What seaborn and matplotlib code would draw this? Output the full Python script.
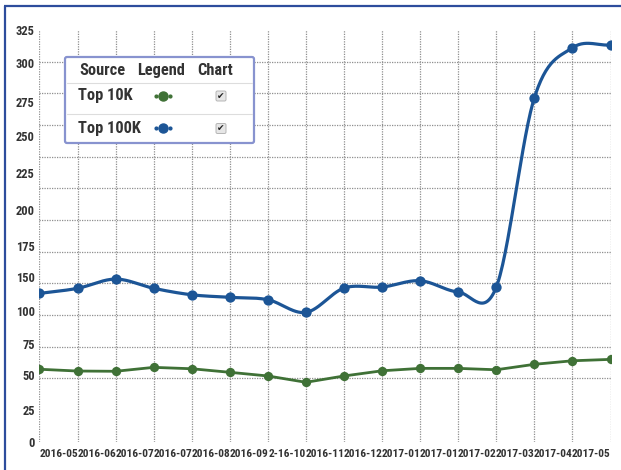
import numpy as np
import pandas as pd
import matplotlib
matplotlib.use("Agg")
import matplotlib.pyplot as plt
from matplotlib import font_manager
from matplotlib.patches import FancyBboxPatch
import seaborn as sns

# Data
months = list(range(16))
top_10k = [57.2, 55.8, 55.6, 58.7, 57.6, 54.8, 51.9, 46.9,
           51.9, 56.0, 57.9, 57.9, 56.8, 61.1, 63.9, 65.0]
top_100k = [117.1, 121.1, 128.4, 121.1, 116.0, 114.0, 112.1, 102.1,
            121.3, 122.1, 127.1, 118.2, 122.1, 271.6, 311.0, 313.2]
x_labels = ["2016-05", "2016-06", "2016-07", "2016-07", "2016-08", "2016-09", "2-16-10",
            "2016-11", "2016-12", "2017-01", "2017-01", "2017-02", "2017-03", "2017-04", "2017-05"]
y_labels = ["0", "25", "50", "75", "100", "150", "175", "200", "225", "250", "275", "300", "325"]
y_label_pos = [0, 25, 53, 77, 103, 130, 154.5, 183, 212, 241, 268, 298.7, 325]

GREEN = "#3f7136"
BLUE = "#1c5596"
TEXT = "#333333"

sns.set_style("white")

# a narrow bold face is closest to the original; fall back to Liberation Sans
installed = {f.name for f in font_manager.fontManager.ttflist}
narrow = next((n for n in ["Liberation Sans Narrow", "Roboto Condensed", "Arial Narrow",
                           "Open Sans Condensed", "DejaVu Sans Condensed"] if n in installed), None)
if narrow:
    plt.rcParams["font.family"] = [narrow, "DejaVu Sans"]
    xtick_fs, ytick_fs, legend_fs = 8.2, 9.0, 11.8
    if "DejaVu" in narrow:
        xtick_fs, ytick_fs, legend_fs = 6.8, 7.5, 9.0
else:
    plt.rcParams["font.family"] = ["Liberation Sans", "DejaVu Sans"]
    xtick_fs, ytick_fs, legend_fs = 7.6, 7.8, 10.0
plt.rcParams["font.weight"] = "bold"


def smooth(x, y, n=30):
    # Catmull-Rom curve through the points (the blue series is drawn smoothed)
    x = np.asarray(x, float)
    y = np.asarray(y, float)
    m = np.gradient(y)
    xs, ys = [], []
    for i in range(len(x) - 1):
        t = np.linspace(0, 1, n, endpoint=False)
        h00 = 2 * t**3 - 3 * t**2 + 1
        h10 = t**3 - 2 * t**2 + t
        h01 = -2 * t**3 + 3 * t**2
        h11 = t**3 - t**2
        xs.append(x[i] + t * (x[i + 1] - x[i]))
        ys.append(h00 * y[i] + h10 * m[i] + h01 * y[i + 1] + h11 * m[i + 1])
    xs.append([x[-1]])
    ys.append([y[-1]])
    return np.concatenate(xs), np.concatenate(ys)


fig = plt.figure(figsize=(6.21, 4.70), dpi=100)
ax = fig.add_axes([0.0636, 0.0602, 0.9195, 0.8758])

df = pd.DataFrame({"month": months, "Top 10K": top_10k, "Top 100K": top_100k})
sx, sy = smooth(df["month"], df["Top 100K"])

sns.lineplot(x=df["month"], y=df["Top 10K"], color=GREEN, lw=2.0, ax=ax, zorder=3)
sns.scatterplot(x=df["month"], y=df["Top 10K"], color=GREEN, s=45, edgecolor=GREEN,
                linewidth=0, ax=ax, zorder=4)
sns.lineplot(x=sx, y=sy, color=BLUE, lw=2.3, ax=ax, zorder=3)
sns.scatterplot(x=df["month"], y=df["Top 100K"], color=BLUE, s=55, edgecolor=BLUE,
                linewidth=0, ax=ax, zorder=4)

ax.set_xlim(0, 15)
ax.set_ylim(0, 325)
ax.set_xticks(np.arange(16), minor=True)
ax.set_yticks(np.arange(0, 326, 25), minor=True)
ax.set_xticks(np.arange(15) + 0.5)
ax.set_xticklabels(x_labels)
ax.set_yticks(y_label_pos)
ax.set_yticklabels(y_labels)
ax.grid(which="minor", color="#8f8f8f", ls=(0, (1, 1)), lw=0.9)
ax.grid(which="major", visible=False)
ax.tick_params(which="both", length=0, colors=TEXT)
ax.tick_params(axis="x", pad=5, labelsize=xtick_fs)
ax.tick_params(axis="y", pad=3.5, labelsize=ytick_fs)
ax.set_xlabel("")
ax.set_ylabel("")
for s in ax.spines.values():
    s.set_visible(False)

# overlay in pixel coordinates for the legend table and frame
ov = fig.add_axes([0, 0, 1, 1], zorder=5)
ov.set_xlim(0, 621)
ov.set_ylim(470, 0)
ov.axis("off")
ov.patch.set_alpha(0)

ov.plot([4.5, 4.5], [6, 470], color="#2d4c9c", lw=1.6, solid_capstyle="butt")
ov.plot([4, 621], [6, 6], color="#2d4c9c", lw=1.6, solid_capstyle="butt")

box = FancyBboxPatch((65, 57), 189, 86, boxstyle="round,pad=0,rounding_size=2",
                     facecolor="white", edgecolor="#8893cf", lw=1.6)
ov.add_patch(box)
ov.plot([67, 252], [82.5, 82.5], color="#dddddd", lw=0.8)
ov.plot([67, 252], [113.5, 113.5], color="#dddddd", lw=0.8)

hdr = dict(fontsize=legend_fs, color=TEXT, va="center", ha="center", fontweight="bold")
ov.text(102, 70.5, "Source", **hdr)
ov.text(161.5, 70.5, "Legend", **hdr)
ov.text(215.5, 70.5, "Chart", **hdr)

rows = [("Top 10K", GREEN, 95.5), ("Top 100K", BLUE, 128)]
for name, col, yy in rows:
    ov.text(78, yy, name, fontsize=legend_fs, color=TEXT, va="center", ha="left", fontweight="bold")
    ov.plot([156, 170], [yy, yy], ls="none", marker="o", ms=2, color=col)
    ov.plot([163], [yy], ls="none", marker="o", ms=6.5, color=col)
    cb = FancyBboxPatch((216, yy - 4.5), 10, 10, boxstyle="round,pad=0,rounding_size=1.5",
                        facecolor="#e6e6e6", edgecolor="#b5b5b5", lw=0.7)
    ov.add_patch(cb)
    ov.text(221, yy + 0.7, "\u2714", fontsize=6.5, color="#222222", ha="center", va="center",
            family="DejaVu Sans")

fig.savefig("out.png", dpi=100)
